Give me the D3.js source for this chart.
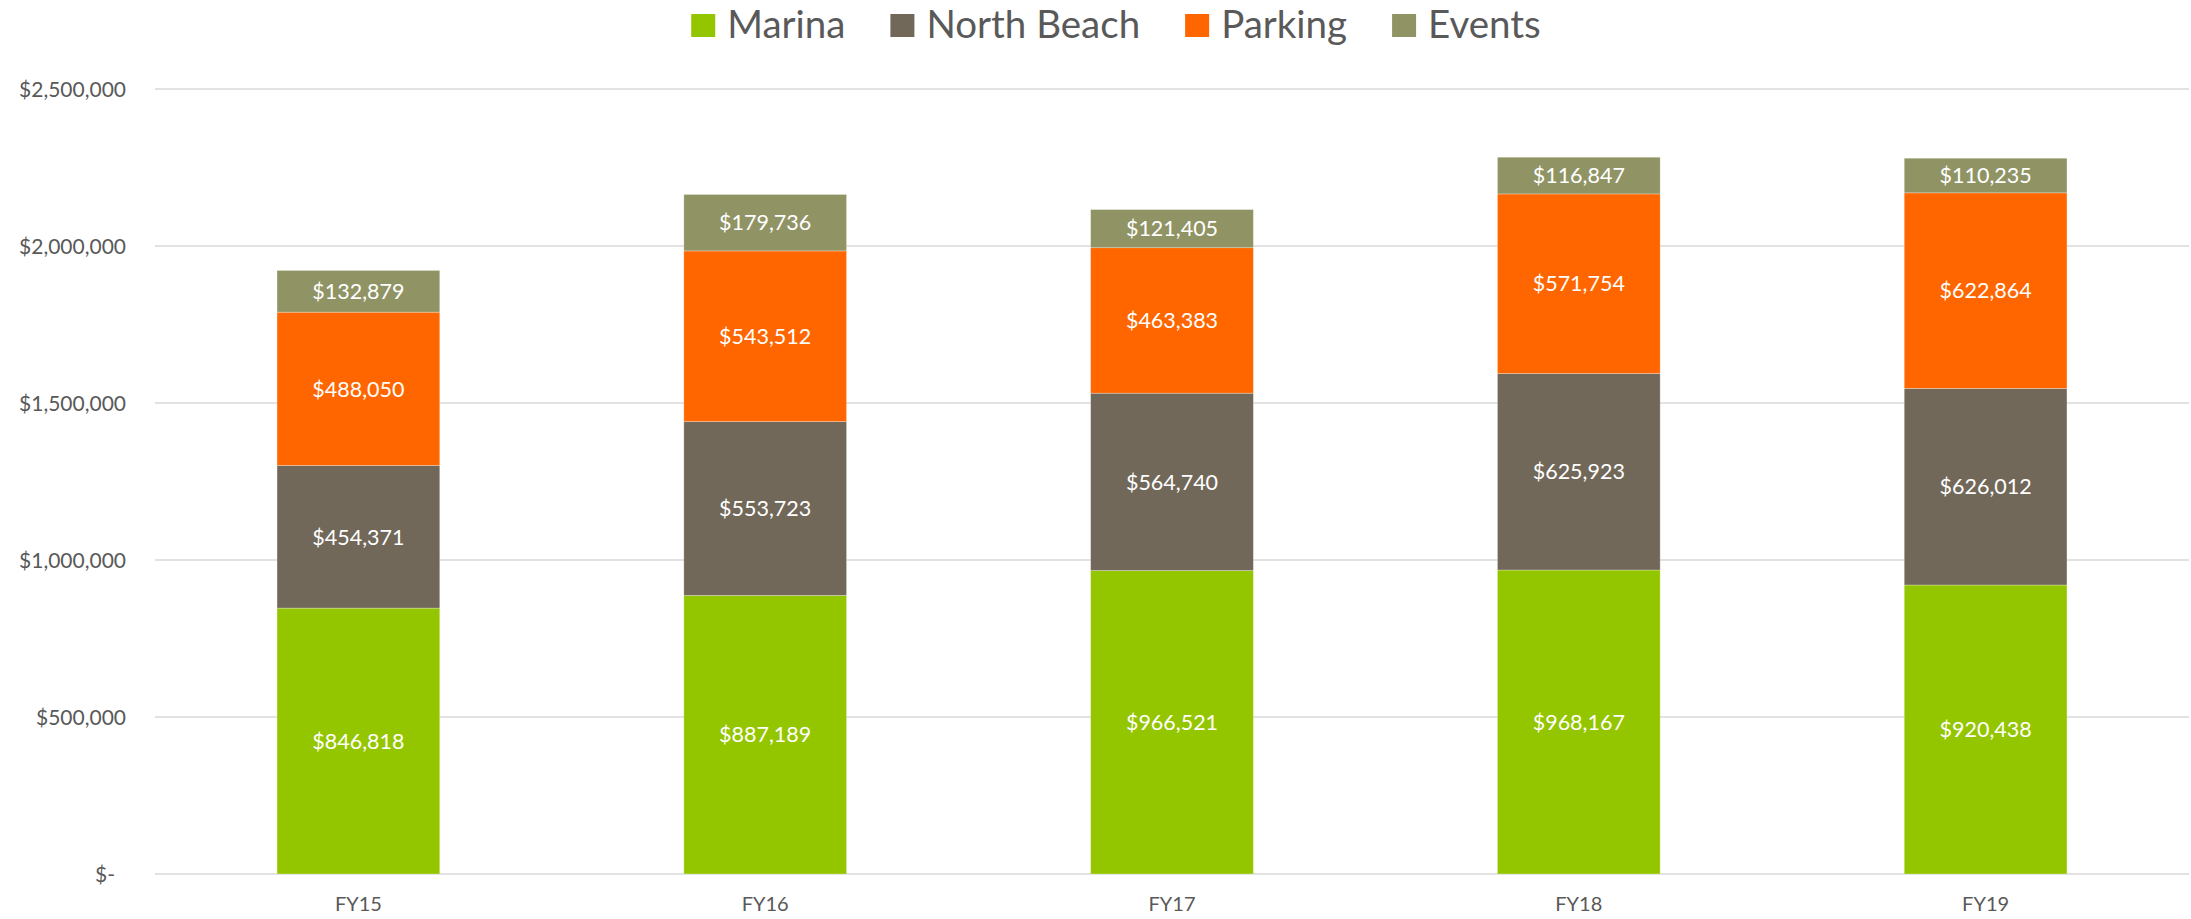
<!DOCTYPE html>
<html>
<head>
<meta charset="utf-8">
<script src="https://cdn.jsdelivr.net/npm/d3@7"></script>
<style>
    html, body { margin: 0; padding: 0; background: #fff; }
    svg { display: block; font-family: Lato, "Open Sans", sans-serif; }
</style>
</head>
<body>
<div id="container"></div>
<script>
const years = ["FY15", "FY16", "FY17", "FY18", "FY19"];
const seriesNames = ["Marina", "North Beach", "Parking", "Events"];
const marina = [846818, 887189, 966521, 968167, 920438];
const northBeach = [454371, 553723, 564740, 625923, 626012];
const parking = [488050, 543512, 463383, 571754, 622864];
const events = [132879, 179736, 121405, 116847, 110235];
const yTicks = [0, 500000, 1000000, 1500000, 2000000, 2500000];
const colors = ["#94c600", "#71685a", "#ff6600", "#909465"];

const width = 2191, height = 919;
const margin = { left: 155, right: 2, top: 89, bottom: 45 };

const rows = years.map((y, i) => ({
    year: y,
    "Marina": marina[i],
    "North Beach": northBeach[i],
    "Parking": parking[i],
    "Events": events[i]
}));

const stacked = d3.stack().keys(seriesNames)(rows);

const svg = d3.select("#container")
    .append("svg")
    .attr("width", width)
    .attr("height", height);

const x = d3.scaleBand()
    .domain(years)
    .range([margin.left, width - margin.right])
    .paddingInner(0.6)
    .paddingOuter(0.3);

const y = d3.scaleLinear()
    .domain([0, 2500000])
    .range([height - margin.bottom, margin.top]);

// gridlines
svg.append("g")
    .selectAll("line")
    .data(yTicks)
    .join("line")
    .attr("x1", margin.left)
    .attr("x2", width - margin.right)
    .attr("y1", d => y(d))
    .attr("y2", d => y(d))
    .attr("stroke", "#d9d9d9")
    .attr("stroke-width", 1.5);

// y axis labels
const fmt = d3.format(",");
const yAxis = svg.append("g")
    .attr("transform", `translate(${margin.left},0)`)
    .call(d3.axisLeft(y).tickValues(yTicks).tickSize(0).tickPadding(29)
        .tickFormat(d => d === 0 ? "$-" : "$" + fmt(d)));
yAxis.select(".domain").remove();
yAxis.selectAll("text")
    .attr("fill", "#595959")
    .style("font-size", "21px")
    .style("font-family", "Lato, sans-serif")
    .attr("dy", "0.36em")
    .attr("x", d => d === 0 ? -40 : -29);

// x axis labels
const xAxis = svg.append("g")
    .attr("transform", `translate(0,${height - margin.bottom})`)
    .call(d3.axisBottom(x).tickSize(0).tickPadding(23));
xAxis.select(".domain").remove();
xAxis.selectAll("text")
    .attr("fill", "#595959")
    .style("font-size", "20px")
    .style("font-family", "Lato, sans-serif");

// bars
const layers = svg.append("g")
    .selectAll("g")
    .data(stacked)
    .join("g")
    .attr("fill", (d, i) => colors[i]);

layers.selectAll("rect")
    .data(d => d)
    .join("rect")
    .attr("x", d => x(d.data.year))
    .attr("width", x.bandwidth())
    .attr("y", d => y(d[1]))
    .attr("height", d => y(d[0]) - y(d[1]))
    .attr("stroke", "rgba(255,255,255,0.35)")
    .attr("stroke-width", 0.8);

// data labels
layers.selectAll("text")
    .data(d => d)
    .join("text")
    .attr("x", d => x(d.data.year) + x.bandwidth() / 2)
    .attr("y", d => (y(d[0]) + y(d[1])) / 2)
    .attr("dy", "0.36em")
    .attr("text-anchor", "middle")
    .attr("fill", "#ffffff")
    .style("font-size", "21.5px")
    .text(d => "$" + fmt(d[1] - d[0]));

// legend
const legend = svg.append("g");
let lx = 0;
seriesNames.forEach((name, i) => {
    const item = legend.append("g").attr("transform", `translate(${lx},0)`);
    item.append("rect")
        .attr("x", 0)
        .attr("y", 14)
        .attr("width", 24)
        .attr("height", 23)
        .attr("fill", colors[i]);
    const t = item.append("text")
        .attr("x", 36)
        .attr("y", 38)
        .attr("fill", "#595959")
        .style("font-size", "38.5px")
        .text(name);
    lx += 36 + t.node().getComputedTextLength() + 45;
});
const legendWidth = lx - 45;
legend.attr("transform", `translate(${1116 - legendWidth / 2},0)`);
</script>
</body>
</html>
